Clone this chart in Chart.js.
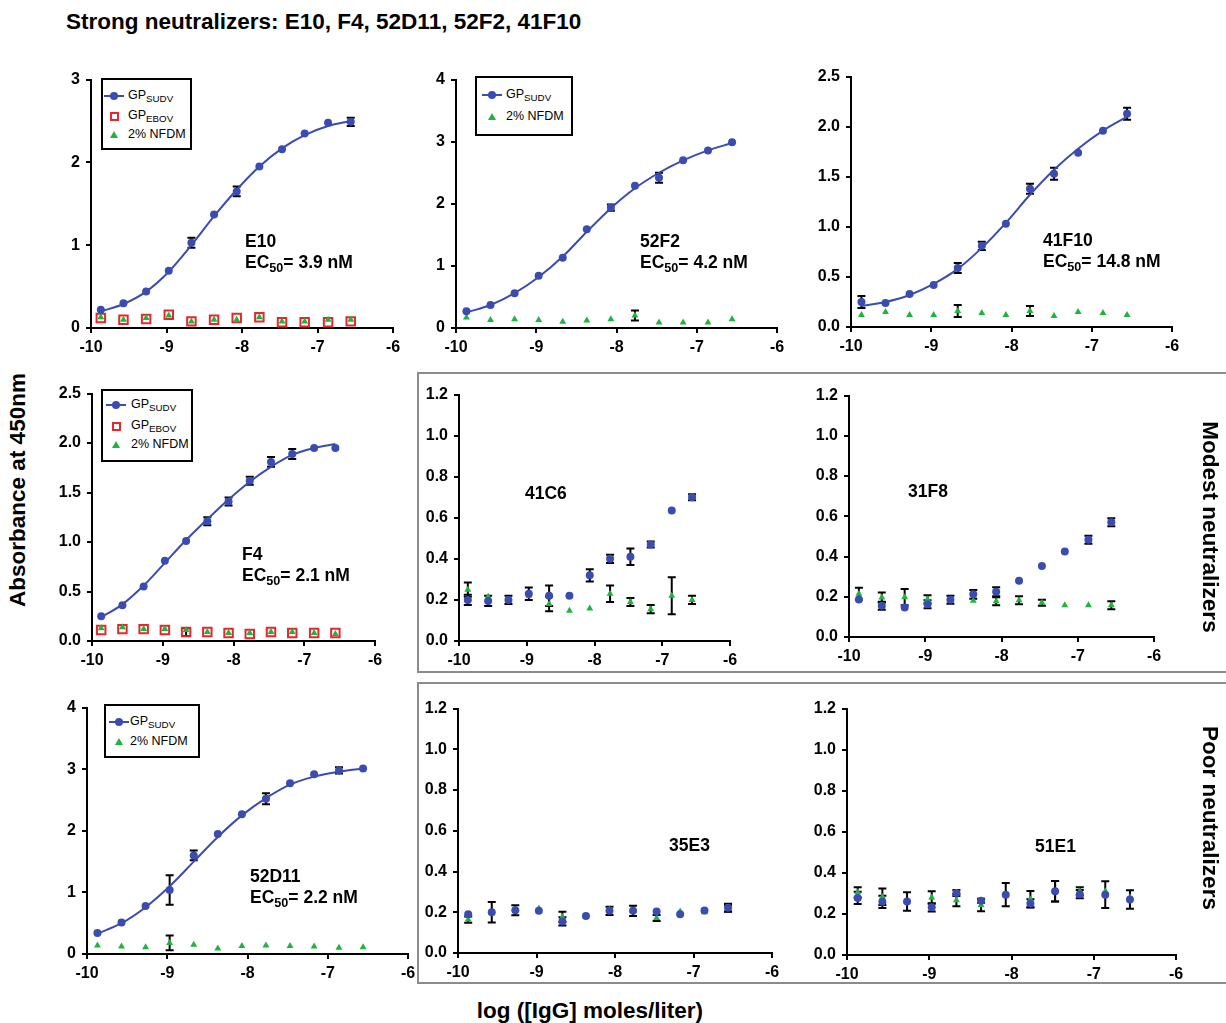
<!DOCTYPE html>
<html>
<head>
<meta charset="utf-8">
<script src="https://cdn.jsdelivr.net/npm/chart.js@4.4.1/dist/chart.umd.min.js"></script>
<style>
  body { margin: 0; background: #fff; font-family: "Liberation Sans", Arial, sans-serif; }
  #page { position: relative; width: 1226px; height: 1023px; overflow: hidden; background: #fff; }
  canvas { position: absolute; }
  .txt { position: absolute; font-weight: bold; color: #000; white-space: nowrap; }
  .big { font-size: 22.5px; line-height: 26px; }
  .note { font-size: 17.5px; line-height: 21px; }
  .note sub { font-size: 0.72em; vertical-align: -0.3em; line-height: 0; }
  .leg sub { font-size: 0.78em; vertical-align: -0.35em; line-height: 0; }
  .frame { position: absolute; border: 2px solid #8c8c8c; box-sizing: border-box; }
  .leg { position: absolute; border: 2px solid #000; background: #fff; box-sizing: border-box; }
  .leg .row { position: absolute; left: 0; height: 16px; font-size: 12.5px; line-height: 16px; white-space: nowrap; }
  .mk { position: absolute; }
</style>
</head>
<body>
<div id="page"></div>
<script>
// x positions: log10 of the 2-fold IgG dilutions
const logConc = [-9.87, -9.57, -9.27, -8.97, -8.67, -8.37, -8.07, -7.77, -7.47, -7.17, -6.86, -6.56];

// E10
const e10Sudv    = [0.22, 0.30, 0.44, 0.69, 1.03, 1.37, 1.65, 1.95, 2.16, 2.35, 2.48, 2.49];
const e10SudvErr = [0, 0, 0, 0, 0.06, 0, 0.06, 0, 0, 0, 0, 0.05];
const e10Ebov    = [0.12, 0.10, 0.11, 0.16, 0.08, 0.10, 0.12, 0.13, 0.07, 0.07, 0.07, 0.08];
const e10Nfdm    = [0.13, 0.10, 0.12, 0.15, 0.08, 0.10, 0.10, 0.13, 0.08, 0.08, 0.10, 0.10];
const e10Fit     = [0.20, 0.29, 0.44, 0.68, 1.00, 1.35, 1.67, 1.95, 2.17, 2.33, 2.44, 2.50];

// 52F2
const m52F2Sudv    = [0.27, 0.37, 0.56, 0.84, 1.13, 1.59, 1.94, 2.29, 2.42, 2.70, 2.86, 2.99];
const m52F2SudvErr = [0, 0, 0, 0, 0, 0, 0.05, 0, 0.08, 0, 0, 0];
const m52F2Nfdm    = [0.17, 0.13, 0.14, 0.13, 0.10, 0.12, 0.14, 0.20, 0.09, 0.09, 0.09, 0.14];
const m52F2NfdmErr = [0, 0, 0, 0, 0, 0, 0, 0.08, 0, 0, 0, 0];
const m52F2Fit     = [0.25, 0.37, 0.56, 0.82, 1.15, 1.55, 1.93, 2.25, 2.50, 2.70, 2.86, 2.98];

// 41F10
const m41F10Sudv    = [0.25, 0.24, 0.33, 0.42, 0.59, 0.81, 1.03, 1.38, 1.53, 1.74, 1.96, 2.13];
const m41F10SudvErr = [0.06, 0, 0, 0, 0.05, 0.04, 0, 0.05, 0.06, 0, 0, 0.06];
const m41F10Nfdm    = [0.12, 0.15, 0.12, 0.12, 0.16, 0.14, 0.12, 0.16, 0.11, 0.15, 0.14, 0.12];
const m41F10NfdmErr = [0, 0, 0, 0, 0.06, 0, 0, 0.05, 0, 0, 0, 0];
const m41F10Fit     = [0.21, 0.25, 0.32, 0.43, 0.58, 0.79, 1.04, 1.32, 1.57, 1.78, 1.96, 2.10];

// F4
const f4Sudv    = [0.25, 0.36, 0.55, 0.81, 1.01, 1.21, 1.41, 1.62, 1.81, 1.89, 1.95, 1.95];
const f4SudvErr = [0, 0, 0, 0, 0, 0.04, 0.04, 0.04, 0.05, 0.05, 0, 0];
const f4Ebov    = [0.11, 0.12, 0.12, 0.11, 0.09, 0.09, 0.08, 0.07, 0.09, 0.08, 0.08, 0.08];
const f4EbovErr = [0, 0, 0, 0, 0.04, 0, 0, 0, 0, 0, 0, 0];
const f4Nfdm    = [0.13, 0.14, 0.12, 0.12, 0.11, 0.09, 0.08, 0.08, 0.09, 0.09, 0.08, 0.07];
const f4Fit     = [0.24, 0.37, 0.56, 0.79, 1.02, 1.23, 1.43, 1.61, 1.76, 1.88, 1.95, 1.99];

// 41C6
const m41C6Sudv    = [0.20, 0.195, 0.20, 0.23, 0.22, 0.22, 0.32, 0.40, 0.41, 0.47, 0.635, 0.70];
const m41C6SudvErr = [0.025, 0.025, 0.02, 0.03, 0.05, 0, 0.03, 0.02, 0.04, 0.015, 0, 0.015];
const m41C6Nfdm    = [0.25, 0.215, 0.20, 0.22, 0.18, 0.147, 0.158, 0.23, 0.19, 0.155, 0.22, 0.20];
const m41C6NfdmErr = [0.035, 0, 0, 0, 0.035, 0, 0, 0.04, 0.02, 0.02, 0.09, 0.02];

// 31F8
const m31F8Sudv    = [0.186, 0.155, 0.147, 0.163, 0.185, 0.212, 0.225, 0.28, 0.353, 0.425, 0.483, 0.57];
const m31F8SudvErr = [0, 0.02, 0, 0.02, 0.02, 0.022, 0.022, 0, 0, 0, 0.02, 0.02];
const m31F8Nfdm    = [0.215, 0.196, 0.198, 0.188, 0.185, 0.18, 0.178, 0.183, 0.17, 0.158, 0.158, 0.158];
const m31F8NfdmErr = [0.03, 0.025, 0.04, 0.02, 0, 0, 0.02, 0.02, 0.015, 0, 0, 0.02];

// 52D11
const m52D11Sudv    = [0.34, 0.51, 0.78, 1.04, 1.60, 1.95, 2.27, 2.52, 2.77, 2.92, 2.98, 3.01];
const m52D11SudvErr = [0, 0, 0, 0.24, 0.08, 0, 0, 0.09, 0, 0, 0.05, 0];
const m52D11Nfdm    = [0.14, 0.12, 0.11, 0.18, 0.15, 0.09, 0.13, 0.14, 0.13, 0.12, 0.10, 0.11];
const m52D11NfdmErr = [0, 0, 0, 0.12, 0, 0, 0, 0, 0, 0, 0, 0];
const m52D11Fit     = [0.33, 0.50, 0.76, 1.10, 1.50, 1.90, 2.25, 2.53, 2.75, 2.88, 2.96, 3.01];

// 35E3
const m35E3Sudv    = [0.19, 0.20, 0.21, 0.207, 0.155, 0.182, 0.207, 0.207, 0.204, 0.19, 0.209, 0.222];
const m35E3SudvErr = [0, 0.05, 0.025, 0, 0.02, 0, 0.02, 0.025, 0, 0, 0, 0.02];
const m35E3Nfdm    = [0.164, 0.196, 0.214, 0.219, 0.177, 0.18, 0.214, 0.21, 0.172, 0.204, 0.20, 0.219];
const m35E3NfdmErr = [0.015, 0, 0, 0, 0.025, 0, 0, 0, 0.015, 0, 0, 0.015];

// 51E1
const m51E1Sudv    = [0.278, 0.259, 0.26, 0.232, 0.302, 0.264, 0.294, 0.251, 0.31, 0.296, 0.294, 0.27];
const m51E1SudvErr = [0.03, 0.03, 0.045, 0.02, 0.015, 0.01, 0.057, 0.02, 0.05, 0.02, 0.065, 0.045];
const m51E1Nfdm    = [0.305, 0.284, 0.26, 0.28, 0.267, 0.243, 0.29, 0.272, 0.31, 0.31, 0.31, 0.28];
const m51E1NfdmErr = [0.025, 0.04, 0, 0.03, 0.03, 0.03, 0, 0.04, 0.05, 0.02, 0, 0];

const xTicks = [-10, -9, -8, -7, -6];

const BLUE = '#3b4cb1', RED = '#e8262b', GREEN = '#1db53c';
const FONT = '"Liberation Sans", Arial, sans-serif';
const page = document.getElementById('page');

// error bars drawn under the markers, via the chart's own scales
const errorBars = {
  id: 'errorBars',
  beforeDatasetsDraw(chart) {
    const { ctx, scales: { x, y } } = chart;
    ctx.save();
    ctx.strokeStyle = '#000';
    ctx.lineWidth = 2;
    chart.data.datasets.forEach(ds => {
      if (!ds.errors) return;
      ds.data.forEach((p, i) => {
        const e = ds.errors[i];
        if (!e) return;
        const px = x.getPixelForValue(p.x);
        const t = y.getPixelForValue(p.y + e), b = y.getPixelForValue(p.y - e);
        ctx.beginPath();
        ctx.moveTo(px, t); ctx.lineTo(px, b);
        ctx.moveTo(px - 4, t); ctx.lineTo(px + 4, t);
        ctx.moveTo(px - 4, b); ctx.lineTo(px + 4, b);
        ctx.stroke();
      });
    });
    ctx.restore();
  }
};

const pts = arr => logConc.map((x, i) => ({ x, y: arr[i] }));

function sudv(vals, err) {
  return { data: pts(vals), errors: err, showLine: false, pointStyle: 'circle', pointRadius: 4,
    backgroundColor: BLUE, borderColor: BLUE, borderWidth: 0, order: 0 };
}
function nfdm(vals, err) {
  return { data: pts(vals), errors: err, showLine: false, pointStyle: 'triangle', pointRadius: 4,
    backgroundColor: GREEN, borderColor: GREEN, borderWidth: 0, order: 1 };
}
function ebov(vals, err) {
  return { data: pts(vals), errors: err, showLine: false, pointStyle: 'rect', pointRadius: 6,
    backgroundColor: 'rgba(0,0,0,0)', borderColor: RED, borderWidth: 2, order: 2 };
}
function fit(vals) {
  return { data: pts(vals), showLine: true, pointRadius: 0, borderColor: BLUE, borderWidth: 2,
    cubicInterpolationMode: 'monotone', order: 3 };
}

const YW = 50, PT = 12, PR = 18, XH = 34;

function panel(area, yMax, yStep, dec, datasets) {
  const [l, t, r, b] = area;
  const cv = document.createElement('canvas');
  const w = (r - l) + YW + PR, h = (b - t) + PT + XH;
  cv.width = w; cv.height = h;
  cv.style.left = (l - YW) + 'px'; cv.style.top = (t - PT) + 'px';
  cv.style.width = w + 'px'; cv.style.height = h + 'px';
  page.appendChild(cv);
  const tickFont = { family: FONT, size: 16, weight: 'bold' };
  new Chart(cv, {
    type: 'scatter',
    data: { datasets },
    plugins: [errorBars],
    options: {
      responsive: false,
      animation: false,
      layout: { padding: { top: PT, right: PR, left: 0, bottom: 0 } },
      plugins: { legend: { display: false }, tooltip: { enabled: false } },
      scales: {
        x: {
          type: 'linear', min: -10, max: -6,
          afterFit(s) { s.height = XH; },
          afterBuildTicks(s) { s.ticks = xTicks.map(v => ({ value: v })); },
          border: { color: '#000', width: 2 },
          grid: { drawOnChartArea: false, color: '#000', lineWidth: 2, tickLength: 5 },
          ticks: { color: '#000', font: tickFont, padding: 5, maxRotation: 0, autoSkip: false,
            callback: v => String(v) }
        },
        y: {
          min: 0, max: yMax,
          afterFit(s) { s.width = YW; },
          border: { color: '#000', width: 2 },
          grid: { drawOnChartArea: false, color: '#000', lineWidth: 2, tickLength: 5 },
          ticks: { color: '#000', font: tickFont, padding: 6, stepSize: yStep, autoSkip: false,
            callback: v => Number(v).toFixed(dec) }
        }
      }
    }
  });
}

panel([91, 76, 393, 328], 3, 1, 0,
  [sudv(e10Sudv, e10SudvErr), nfdm(e10Nfdm), ebov(e10Ebov), fit(e10Fit)]);
panel([456, 76, 777, 328], 4, 1, 0,
  [sudv(m52F2Sudv, m52F2SudvErr), nfdm(m52F2Nfdm, m52F2NfdmErr), fit(m52F2Fit)]);
panel([851, 73, 1172, 327], 2.5, 0.5, 1,
  [sudv(m41F10Sudv, m41F10SudvErr), nfdm(m41F10Nfdm, m41F10NfdmErr), fit(m41F10Fit)]);
panel([92, 390, 375, 641], 2.5, 0.5, 1,
  [sudv(f4Sudv, f4SudvErr), nfdm(f4Nfdm), ebov(f4Ebov, f4EbovErr), fit(f4Fit)]);
panel([459, 391, 730, 641], 1.2, 0.2, 1,
  [sudv(m41C6Sudv, m41C6SudvErr), nfdm(m41C6Nfdm, m41C6NfdmErr)]);
panel([849, 392, 1154, 637], 1.2, 0.2, 1,
  [sudv(m31F8Sudv, m31F8SudvErr), nfdm(m31F8Nfdm, m31F8NfdmErr)]);
panel([87, 704, 408, 954], 4, 1, 0,
  [sudv(m52D11Sudv, m52D11SudvErr), nfdm(m52D11Nfdm, m52D11NfdmErr), fit(m52D11Fit)]);
panel([458, 705, 772, 953], 1.2, 0.2, 1,
  [sudv(m35E3Sudv, m35E3SudvErr), nfdm(m35E3Nfdm, m35E3NfdmErr)]);
panel([847, 705, 1176, 955], 1.2, 0.2, 1,
  [sudv(m51E1Sudv, m51E1SudvErr), nfdm(m51E1Nfdm, m51E1NfdmErr)]);

// ---- text, frames, legends ----
function txt(html, cls, left, top, extra) {
  const d = document.createElement('div');
  d.className = 'txt ' + cls;
  d.innerHTML = html;
  d.style.left = left + 'px'; d.style.top = top + 'px';
  if (extra) Object.assign(d.style, extra);
  page.appendChild(d);
  return d;
}
function frame(left, top, w, h) {
  const d = document.createElement('div');
  d.className = 'frame';
  Object.assign(d.style, { left: left + 'px', top: top + 'px', width: w + 'px', height: h + 'px' });
  page.appendChild(d);
}
frame(417, 372, 840, 301);
frame(417, 682, 840, 302);

txt('Strong neutralizers: E10, F4, 52D11, 52F2, 41F10', 'big', 66, 9);
txt('log ([IgG] moles/liter)', 'big', 440, 998, { width: '300px', textAlign: 'center' });
txt('Absorbance at 450nm', 'big', 18 - 150, 490 - 13, { width: '300px', textAlign: 'center', transform: 'rotate(-90deg)' });
txt('Modest neutralizers', 'big', 1210 - 150, 527 - 13, { width: '300px', textAlign: 'center', transform: 'rotate(90deg)' });
txt('Poor neutralizers', 'big', 1210 - 150, 818 - 13, { width: '300px', textAlign: 'center', transform: 'rotate(90deg)' });

const notes = [
  ['E10', 'EC<sub>50</sub>= 3.9 nM', 245, 231],
  ['52F2', 'EC<sub>50</sub>= 4.2 nM', 640, 231],
  ['41F10', 'EC<sub>50</sub>= 14.8 nM', 1043, 230],
  ['F4', 'EC<sub>50</sub>= 2.1 nM', 242, 544],
  ['41C6', null, 525, 483],
  ['31F8', null, 908, 481],
  ['52D11', 'EC<sub>50</sub>= 2.2 nM', 250, 866],
  ['35E3', null, 669, 835],
  ['51E1', null, 1035, 836]
];
notes.forEach(([name, ec, l, t]) => {
  txt(name, 'note', l, t);
  if (ec) txt(ec, 'note', l, t + 21);
});

const legItems = {
  sudv: ['GP', 'SUDV'],
  ebov: ['GP', 'EBOV'],
  nfdm: ['2% NFDM', null]
};
function legend(left, top, w, h, mx, tx, rows) {
  const box = document.createElement('div');
  box.className = 'leg';
  Object.assign(box.style, { left: left + 'px', top: top + 'px', width: w + 'px', height: h + 'px' });
  rows.forEach(([kind, cy]) => {
    const mk = document.createElement('div');
    mk.className = 'mk';
    if (kind === 'sudv') {
      mk.innerHTML = '<div style="position:absolute;left:-10px;top:-1px;width:20px;height:2px;background:' + BLUE + '"></div>' +
        '<div style="position:absolute;left:-4px;top:-4px;width:8px;height:8px;border-radius:50%;background:' + BLUE + '"></div>';
    } else if (kind === 'ebov') {
      mk.innerHTML = '<div style="position:absolute;left:-4.5px;top:-4.5px;width:9px;height:9px;box-sizing:border-box;border:2px solid ' + RED + '"></div>';
    } else {
      mk.innerHTML = '<div style="position:absolute;left:-4px;top:-4px;width:0;height:0;border-left:4px solid transparent;border-right:4px solid transparent;border-bottom:7px solid ' + GREEN + '"></div>';
    }
    Object.assign(mk.style, { left: mx + 'px', top: cy + 'px' });
    box.appendChild(mk);
    const [main, sub] = legItems[kind];
    const row = document.createElement('div');
    row.className = 'row';
    row.innerHTML = main + (sub ? '<sub>' + sub + '</sub>' : '');
    Object.assign(row.style, { left: tx + 'px', top: (cy - 9) + 'px' });
    box.appendChild(row);
  });
  page.appendChild(box);
}
legend(101, 78, 91, 72, 11, 25, [['sudv', 16], ['ebov', 36], ['nfdm', 55]]);
legend(475, 76, 98, 60, 15, 29, [['sudv', 17], ['nfdm', 39]]);
legend(101, 389, 92, 73, 13, 28, [['sudv', 14], ['ebov', 35], ['nfdm', 54]]);
legend(104, 704, 96, 54, 13, 24, [['sudv', 16], ['nfdm', 36]]);
</script>
</body>
</html>
